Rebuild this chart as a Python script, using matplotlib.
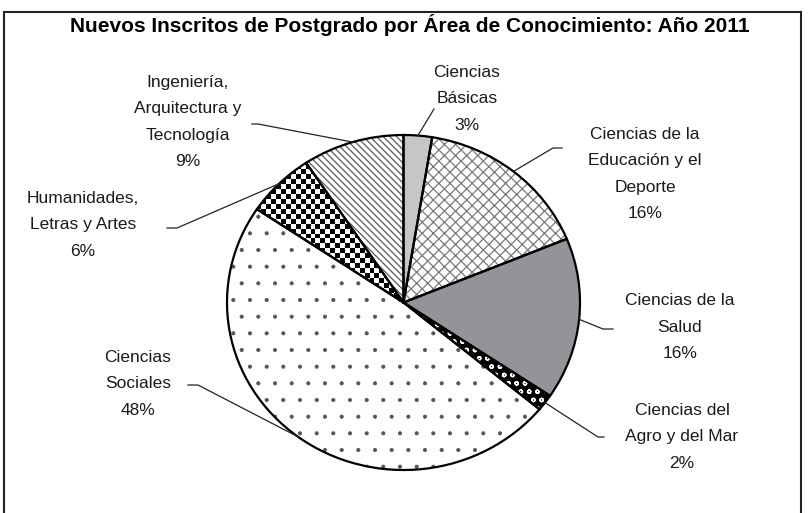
import numpy as np
import matplotlib
matplotlib.use('Agg')
import matplotlib.pyplot as plt
from matplotlib.lines import Line2D
from matplotlib.patches import Rectangle

plt.rcParams['font.family'] = ['Liberation Sans', 'DejaVu Sans']
plt.rcParams['hatch.linewidth'] = 1.0

# data (clockwise from the top)
areas = ['Ciencias\nBásicas', 'Ciencias de la\nEducación y el\nDeporte', 'Ciencias de la\nSalud',
         'Ciencias del\nAgro y del Mar', 'Ciencias\nSociales', 'Humanidades,\nLetras y Artes',
         'Ingeniería,\nArquitectura y\nTecnología']
values = [2.6, 16.2, 15.6, 1.6, 48.4, 6.3, 9.3]

# styles
faces = ['#c6c6c6', 'white', '#949498', 'black', 'white', 'white', 'white']
hatches = [None, 'xxx', None, 'oo', '.', None, '\\\\\\\\\\']
hatch_cols = ['#c6c6c6', '#7a7a7a', '#949498', 'white', '#555555', 'white', '#5a5a5a']
hatch_lw = [1.0, 0.9, 1.0, 1.0, 0.5, 1.0, 0.9]

W, H = 809, 513
fig = plt.figure(figsize=(W / 100, H / 100), dpi=100)

def px(x, y):
    # pixel position (from top-left) -> figure fraction
    return x / W, 1 - y / H

# pie ellipse spans x 227-580, y 135-470
ax = fig.add_axes([227 / W, 1 - 470 / H, 353 / W, 335 / H])

wedges, _ = ax.pie(values, startangle=90, counterclock=False, colors=faces,
                   wedgeprops=dict(linewidth=0))
for w, h, hc, hl in zip(wedges, hatches, hatch_cols, hatch_lw):
    w.set_edgecolor(hc)
    if h:
        w.set_hatch(h)
    if hasattr(w, 'set_hatch_linewidth'):
        w.set_hatch_linewidth(hl)
    else:
        w._hatch_linewidth = hl

# checkerboard for Humanidades
cells = np.indices((68, 72)).sum(axis=0) % 2
img = ax.imshow(cells, cmap='gray', extent=(-1, 1, -1, 1), interpolation='nearest',
                aspect='auto', zorder=2)
img.set_clip_path(wedges[5])

# outlines on top
outl, _ = ax.pie(values, startangle=90, counterclock=False,
                 wedgeprops=dict(fill=False, edgecolor='black', linewidth=1.6))
for o in outl:
    o.set_zorder(3)

ax.set_aspect('auto')
ax.set_xlim(-1, 1)
ax.set_ylim(-1, 1)
ax.axis('off')

# labels
pct = [f'{round(v)}%' for v in values]
label_pos = [(467, 99), (645, 174), (680, 327), (682, 437), (138, 384), (83, 225), (188, 122)]
# (end at label, elbow)
leaders = [((434, 109), (434, 109)), ((562, 148), (553, 148)), ((613, 329), (603, 329)),
           ((604, 437), (598, 437)), ((188, 385), (198, 385)), ((167, 228), (177, 228)),
           ((252, 124), (258, 124))]

inv = fig.transFigure.inverted()
cum = np.cumsum([0] + values)
for i, name in enumerate(areas):
    fx, fy = px(*label_pos[i])
    fig.text(fx, fy, name + '\n' + pct[i], ha='center', va='center', fontsize=12.5,
             linespacing=1.95, color='#1a1a1a')
    mid = (cum[i] + cum[i + 1]) / 2 / 100 * 2 * np.pi
    edge = inv.transform(ax.transData.transform((np.sin(mid), np.cos(mid))))
    end = px(*leaders[i][0])
    elbow = px(*leaders[i][1])
    fig.add_artist(Line2D([end[0], elbow[0], edge[0]], [end[1], elbow[1], edge[1]],
                          color='#222222', linewidth=0.9))

fx, fy = px(410, 25)
fig.text(fx, fy, 'Nuevos Inscritos de Postgrado por Área de Conocimiento: Año 2011',
         ha='center', va='center', fontsize=15, fontweight='bold')

x0, y0 = px(4, 12)
x1, _ = px(801, 0)
fig.add_artist(Rectangle((x0, -0.05), x1 - x0, y0 + 0.05, transform=fig.transFigure,
                         fill=False, edgecolor='#222222', linewidth=1.5))

fig.savefig('out.png', dpi=100)
